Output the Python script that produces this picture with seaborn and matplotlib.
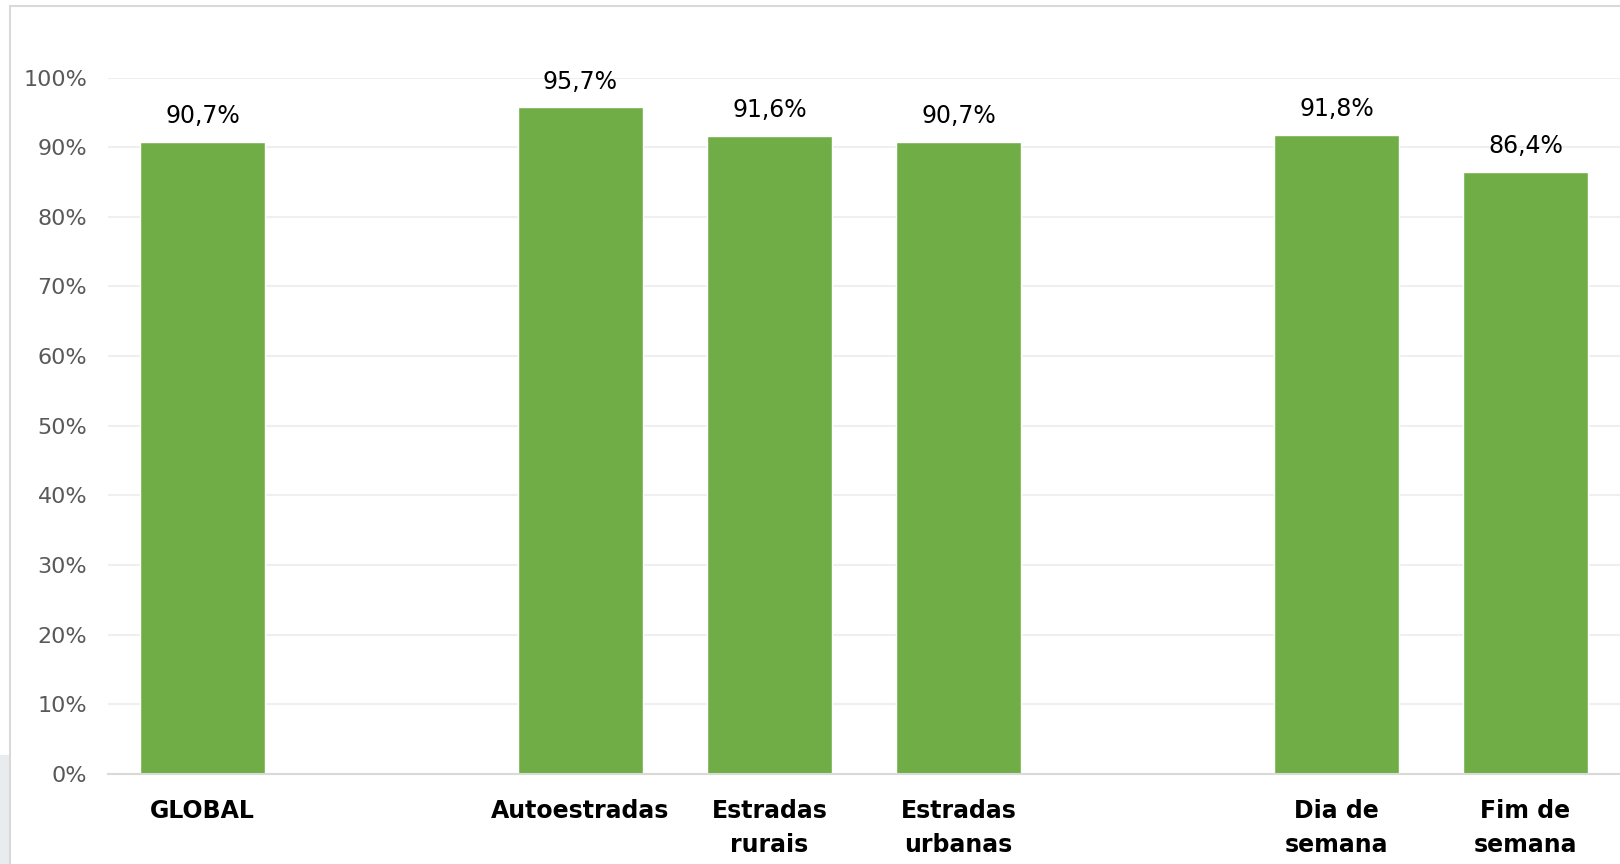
import matplotlib
matplotlib.use("Agg")
import matplotlib.pyplot as plt
import seaborn as sns
import pandas as pd
from matplotlib.patches import Rectangle

categories = ["GLOBAL", "Autoestradas", "Estradas\nrurais", "Estradas\nurbanas",
              "Dia de\nsemana", "Fim de\nsemana"]
values = [90.7, 95.7, 91.6, 90.7, 91.8, 86.4]
slot_order = ["GLOBAL", " ", "Autoestradas", "Estradas\nrurais", "Estradas\nurbanas",
              "  ", "Dia de\nsemana", "Fim de\nsemana"]
yticks = [0, 10, 20, 30, 40, 50, 60, 70, 80, 90, 100]

sns.set_theme(style="white")
plt.rcParams['font.family'] = ['DejaVu Sans']

df = pd.DataFrame({"cat": categories, "val": values})

fig = plt.figure(figsize=(16.2, 8.64), dpi=100)
# figure frame / background decorations
fig.patches.append(Rectangle((0, 0), 10/1620, 1 - 755/864, transform=fig.transFigure,
                             facecolor="#E9ECEF", edgecolor="none", zorder=0))
fig.add_artist(plt.Line2D([10/1620, 10/1620], [0, 1 - 6/864], transform=fig.transFigure,
                          color="#D9D9D9", lw=1.5))
fig.add_artist(plt.Line2D([10/1620, 1], [1 - 6/864, 1 - 6/864], transform=fig.transFigure,
                          color="#D9D9D9", lw=1.5))

ax = fig.add_axes([108/1620, 1 - 774/864, 1 - 108/1620, (774 - 77.5)/864])
sns.barplot(data=df, x="cat", y="val", order=slot_order, color="#70AD47",
            saturation=1, width=0.66, errorbar=None, ax=ax, zorder=3)

ax.set_ylim(0, 100)
ax.set_xlim(-0.5, 7.5)
ax.set_yticks(yticks)
ax.set_yticklabels([f"{t}%" for t in yticks], color="#595959", fontsize=16)
ax.yaxis.grid(True, color="#EFEFEF", lw=1.5, zorder=0)
ax.set_axisbelow(True)
for s in ["top", "right", "left"]:
    ax.spines[s].set_visible(False)
ax.spines["bottom"].set_color("#D9D9D9")
ax.spines["bottom"].set_linewidth(1.5)
ax.spines["bottom"].set_zorder(4)
ax.tick_params(axis="y", length=0, pad=15)
ax.tick_params(axis="x", length=0, pad=18)
for lbl in ax.get_xticklabels():
    lbl.set_fontweight("bold")
    lbl.set_fontsize(17)
    lbl.set_color("black")
    lbl.set_va("top")
    lbl.set_linespacing(1.5)
ax.set_xlabel("")
ax.set_ylabel("")

for cont in ax.containers:
    labels = [f"{b.get_height():.1f}%".replace(".", ",") for b in cont]
    ax.bar_label(cont, labels=labels, padding=10, fontsize=17, color="black", clip_on=False)

fig.savefig("out.png", dpi=100)
